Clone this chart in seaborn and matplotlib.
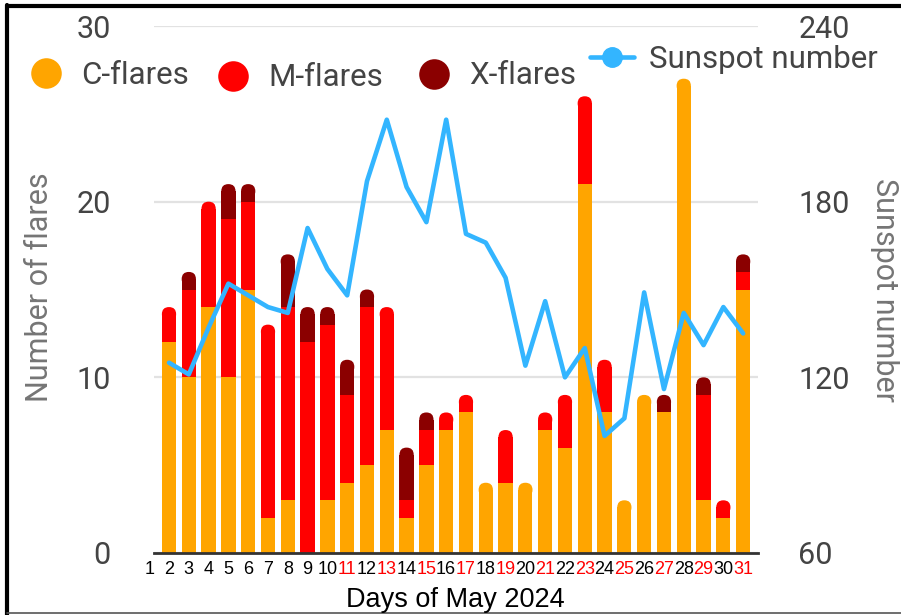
import numpy as np
import pandas as pd
import matplotlib
matplotlib.use("Agg")
import matplotlib.pyplot as plt
import seaborn as sns
from matplotlib.patches import FancyBboxPatch
from matplotlib.lines import Line2D

# ---------------- data ----------------
days = [2, 3, 4, 5, 6, 7, 8, 9, 10, 11, 12, 13, 14, 15, 16, 17, 18, 19, 20, 21,
        22, 23, 24, 25, 26, 27, 28, 29, 30, 31]
c_flares = [12, 10, 14, 10, 15, 2, 3, 0, 3, 4, 5, 7, 2, 5, 7, 8, 4, 4, 4, 7,
            6, 21, 8, 3, 9, 8, 27, 3, 2, 15]
m_flares = [2, 5, 6, 9, 5, 11, 11, 12, 10, 5, 9, 7, 1, 2, 1, 1, 0, 3, 0, 1,
            3, 5, 3, 0, 0, 0, 0, 6, 1, 1]
x_flares = [0, 1, 0, 2, 1, 0, 3, 2, 1, 2, 1, 0, 3, 1, 0, 0, 0, 0, 0, 0,
            0, 0, 0, 0, 0, 1, 0, 1, 0, 1]
sunspots = [125, 121, 137, 152, 148, 144, 142, 171, 157, 148, 187, 208, 185, 173, 208,
            169, 166, 154, 124, 146, 120, 130, 100, 106, 149, 116, 142, 131, 144, 135]
label_days = [1, 2, 3, 4, 5, 6, 7, 8, 9, 10, 11, 12, 13, 14, 15, 16, 17, 18, 19, 20,
              21, 22, 23, 24, 25, 26, 27, 28, 29, 30, 31]
day_labels = ["1", "2", "3", "4", "5", "6", "7", "8", "9", "10", "11", "12", "13", "14",
              "15", "16", "17", "18", "19", "20", "21", "22", "23", "24", "25", "26",
              "27", "28", "29", "30", "31"]
red_label_days = [11, 13, 15, 17, 19, 21, 23, 25, 27, 29, 31]
left_ticks = [0, 10, 20, 30]
right_ticks = [60, 120, 180, 240]
legend_bar_labels = ["C-flares", "M-flares", "X-flares"]
line_label = "Sunspot number"

C_COL, M_COL, X_COL, LINE_COL = "#FFA500", "#FF0000", "#8B0000", "#33B5FF"
TXT = "#444444"

sns.set_theme(style="white")
plt.rcParams['font.family'] = ['Roboto', 'DejaVu Sans']

W, H = 901, 615
fig = plt.figure(figsize=(W / 100, H / 100), dpi=100, facecolor="white")
AX_L, AX_R, AX_B, AX_T = 154, 758, 553, 26
ax = fig.add_axes([AX_L / W, 1 - AX_B / H, (AX_R - AX_L) / W, (AX_B - AX_T) / H])

df = pd.DataFrame({"day": days, "C": c_flares, "M": m_flares, "X": x_flares,
                   "sunspot": sunspots})
df["CM"] = df["C"] + df["M"]
df["total"] = df["CM"] + df["X"]

for col, colr in [("total", X_COL), ("CM", M_COL), ("C", C_COL)]:
    sns.barplot(data=df, x="day", y=col, native_scale=True, color=colr, saturation=1,
                width=0.72, errorbar=None, ax=ax, linewidth=0, edgecolor="none", zorder=2)

xlim = (days[0] - 0.758, days[-1] + 0.75)
ax.set_xlim(*xlim)
ax.set_ylim(left_ticks[0], left_ticks[-1])
ax.set_yticks(left_ticks)
ax.set_xticks([])
ax.set_xlabel("")
ax.set_ylabel("")
ax.yaxis.grid(True, color="#e2e2e2", lw=1.6)
ax.set_axisbelow(True)
for s in ["left", "right", "top"]:
    ax.spines[s].set_visible(False)
ax.spines["bottom"].set_color("#333333")
ax.spines["bottom"].set_linewidth(2)
ax.tick_params(axis="y", length=0, pad=31, labelsize=22, labelcolor=TXT)

# rounded tops: only the top-most drawn layer of each bar gets a cap,
# layers hidden completely underneath it are removed
px_per_x = (AX_R - AX_L) / (xlim[1] - xlim[0])
px_per_y = (AX_B - AX_T) / (left_ticks[-1] - left_ticks[0])
totals = dict(zip(df["day"], df["total"]))
top_rect = {}
for cont in list(ax.containers):
    for rect in cont.patches:
        h = rect.get_height()
        d = int(round(rect.get_x() + rect.get_width() / 2))
        if h > 0 and abs(h - totals.get(d, -1)) < 1e-9:
            if d in top_rect:
                top_rect[d].set_visible(False)
            top_rect[d] = rect
for d, rect in top_rect.items():
    h, w, x0, y0 = rect.get_height(), rect.get_width(), rect.get_x(), rect.get_y()
    rx = w / 2
    ry = rx * px_per_x / px_per_y
    rect.set_height(h - ry)
    cap = FancyBboxPatch((x0, y0 + h - 2 * ry), w, 2 * ry,
                         boxstyle=f"round,pad=0,rounding_size={rx}",
                         mutation_aspect=ry / rx, fc=rect.get_facecolor(),
                         ec="none", lw=0, zorder=rect.get_zorder())
    ax.add_patch(cap)

# sunspot line on the right axis
ax2 = ax.twinx()
sns.lineplot(data=df, x="day", y="sunspot", ax=ax2, color=LINE_COL, linewidth=3.3,
             legend=False)
ax2.set_ylim(right_ticks[0], right_ticks[-1])
ax2.set_yticks(right_ticks)
ax2.set_xlim(*xlim)
ax2.set_ylabel("")
ax2.set_xlabel("")
ax2.grid(False)
for s in ["left", "right", "top", "bottom"]:
    ax2.spines[s].set_visible(False)
ax2.tick_params(axis="y", length=0, pad=29, labelsize=22, labelcolor=TXT)

# x tick labels (day numbers)
for d, lbl in zip(label_days, day_labels):
    ax.text(d, (AX_B - 570) / (AX_B - AX_T), lbl, transform=ax.get_xaxis_transform(),
            ha="center", va="center", fontsize=13, family=["Liberation Sans"],
            color="#FF0000" if d in red_label_days else "black", clip_on=False)

fig.text(455 / W, 1 - 600 / H, "Days of May 2024", ha="center", va="center",
         fontsize=19.5, family=["Liberation Sans"], color="black")
fig.text(40 / W, 1 - 287 / H, "Number of flares", rotation=90, ha="center",
         va="center", fontsize=22, color="#757575")
fig.text(884 / W, 1 - 290 / H, "Sunspot number", rotation=270, ha="center",
         va="center", fontsize=22, color="#757575")

# legends
for lbl, colr, x_px, y_px in zip(legend_bar_labels, (C_COL, M_COL, X_COL),
                                 (30, 217, 418), (75, 78, 76)):
    h_ = Line2D([], [], marker="o", ls="", ms=22, mfc=colr, mec="none")
    fig.legend(handles=[h_], labels=[lbl], loc="center left",
               bbox_to_anchor=(x_px / W, 1 - y_px / H), frameon=False, fontsize=22.5,
               handlelength=1.0, handletextpad=0.65, borderpad=0, borderaxespad=0,
               labelcolor=TXT)
line_handle = Line2D([], [], color=LINE_COL, lw=3.3, marker="o", ms=14,
                     mfc=LINE_COL, mec=LINE_COL)
fig.legend(handles=[line_handle], labels=[line_label], loc="center left",
           bbox_to_anchor=(590 / W, 1 - 59 / H), frameon=False, fontsize=22.5,
           handlelength=1.4, handletextpad=0.5, borderpad=0, borderaxespad=0,
           labelcolor=TXT)

# frame of the picture
fig.add_artist(Line2D([7 / W, 7 / W], [0, 1 - 5 / H], transform=fig.transFigure,
                      color="black", lw=3))
fig.add_artist(Line2D([7 / W, 1], [1 - 6 / H, 1 - 6 / H], transform=fig.transFigure,
                      color="black", lw=3))
fig.add_artist(Line2D([7 / W, 1], [2.5 / H, 2.5 / H], transform=fig.transFigure,
                      color="#555555", lw=1.2))

fig.savefig("out.png", dpi=100, facecolor="white")
